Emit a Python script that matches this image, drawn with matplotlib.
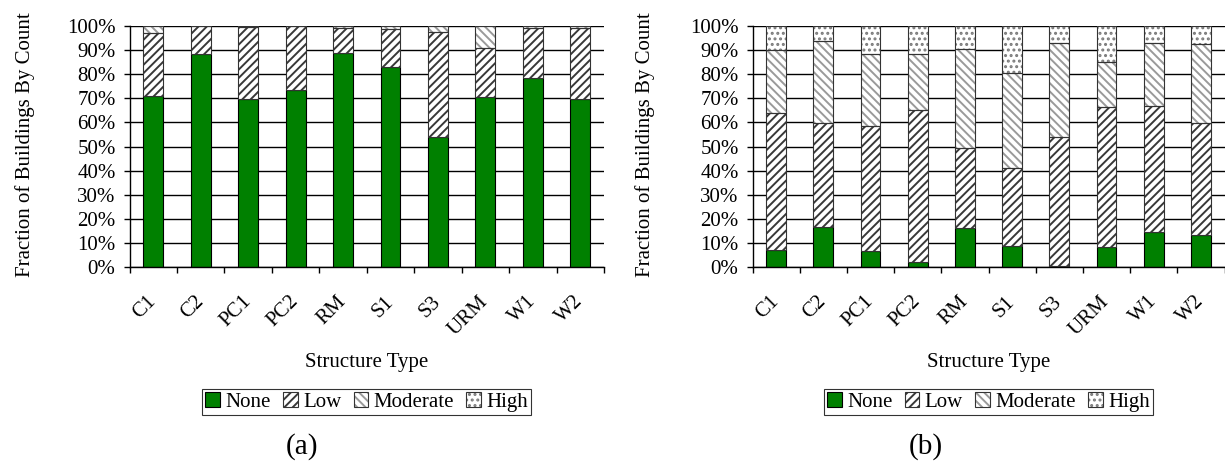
import matplotlib

matplotlib.use("Agg")
import matplotlib.pyplot as plt  # noqa: E402
from matplotlib.patches import Patch  # noqa: E402
from matplotlib.legend_handler import HandlerTuple  # noqa: E402
from matplotlib.ticker import FixedLocator, FuncFormatter  # noqa: E402

structure_types = ["C1", "C2", "PC1", "PC2", "RM", "S1", "S3", "URM", "W1", "W2"]
damage_states = ["None", "Low", "Moderate", "High"]

# (a) damage fractions by count, percent
none_a = [71.1, 88.2, 69.6, 73.4, 88.7, 83.1, 54.1, 70.4, 78.3, 69.6]
low_a = [25.9, 11.8, 29.9, 26.6, 10.3, 15.5, 43.3, 20.3, 20.7, 29.4]
moderate_a = [3.0, 0.0, 0.5, 0.0, 1.0, 1.4, 2.6, 9.3, 1.0, 1.0]
high_a = [0.0, 0.0, 0.0, 0.0, 0.0, 0.0, 0.0, 0.0, 0.0, 0.0]

# (b) damage fractions by count, percent
none_b = [7.2, 16.5, 6.6, 2.1, 16.2, 8.9, 0.5, 8.3, 14.5, 13.3]
low_b = [56.5, 43.1, 52.1, 63.0, 33.1, 32.2, 53.4, 58.2, 52.5, 46.5]
moderate_b = [26.3, 34.2, 29.5, 23.3, 41.3, 39.6, 39.2, 18.4, 26.1, 32.9]
high_b = [10.0, 6.2, 11.8, 11.6, 9.4, 19.3, 6.9, 15.1, 6.9, 7.3]

FONT = "Liberation Serif"
SIZE = 15
plt.rcParams["font.family"] = [FONT, "DejaVu Serif"]
plt.rcParams["hatch.linewidth"] = 1.4

# (face, hatch, hatch colour) per damage state
STYLES = [
    ("#008000", None, None),
    ("white", "////", "#383838"),
    ("white", "\\\\\\\\", "#9a9a9a"),
    ("white", "...", "#7a7a7a"),
]
BAR_WIDTH = 0.42


def draw_panel(ax, series):
    x = list(range(len(structure_types)))
    bottom = [0.0] * len(x)
    for values, (face, hatch, hcolor) in zip(series, STYLES):
        if hatch is None:
            ax.bar(x, values, BAR_WIDTH, bottom=bottom, color=face,
                   edgecolor="black", linewidth=0.8, zorder=2)
        else:
            ax.bar(x, values, BAR_WIDTH, bottom=bottom, color=face,
                   hatch=hatch, edgecolor=hcolor, linewidth=0, zorder=2)
            ax.bar(x, values, BAR_WIDTH, bottom=bottom, fill=False,
                   edgecolor="#333333", linewidth=0.8, zorder=3)
        bottom = [b + v for b, v in zip(bottom, values)]

    ax.set_xlim(-0.5, len(x) - 0.5)
    ax.set_ylim(0, 100)
    ax.set_axisbelow(True)
    ax.yaxis.set_major_locator(FixedLocator(range(0, 101, 10)))
    ax.yaxis.set_major_formatter(FuncFormatter(lambda v, _: f"{v:.0f}%"))
    ax.grid(axis="y", color="black", linewidth=1.0)
    for side in ("top", "right"):
        ax.spines[side].set_visible(False)
    ax.spines["left"].set_linewidth(1.0)
    ax.spines["bottom"].set_linewidth(1.0)
    ax.tick_params(axis="y", direction="out", length=4, width=1.0,
                   pad=6, labelsize=SIZE)

    # category labels at bar centres, tick marks on the boundaries
    ax.set_xticks(x)
    ax.set_xticklabels(structure_types, rotation=45, ha="right",
                       va="center", rotation_mode="anchor", fontsize=SIZE)
    ax.tick_params(axis="x", which="major", length=0, pad=23)
    ax.set_xticks([i - 0.5 for i in range(len(x) + 1)], minor=True)
    ax.tick_params(axis="x", which="minor", direction="out", length=4,
                   width=1.0)

    ax.text(0.5, -0.398, "Structure Type", transform=ax.transAxes,
            ha="center", va="center", fontsize=SIZE)

    handles = [Patch(facecolor=STYLES[0][0], edgecolor="black", linewidth=0.8)]
    for face, hatch, hcolor in STYLES[1:]:
        handles.append((
            Patch(facecolor=face, hatch=hatch, edgecolor=hcolor, linewidth=0),
            Patch(fill=False, edgecolor="#333333", linewidth=0.8),
        ))
    ax.legend(handles, damage_states, handler_map={tuple: HandlerTuple(ndivide=1)},
              loc="center", bbox_to_anchor=(0.5, -0.56), ncol=4,
              frameon=True, fancybox=False, edgecolor="black",
              prop={"size": SIZE}, handlelength=0.7, handleheight=0.7,
              handletextpad=0.25, columnspacing=0.6, borderpad=0.15,
              borderaxespad=0)
    ax.get_legend().get_frame().set_linewidth(0.8)


fig = plt.figure(figsize=(12.25, 4.62), dpi=100)
ax_a = fig.add_axes([129.5 / 1225, 195 / 462, 474.5 / 1225, 241 / 462])
ax_b = fig.add_axes([752.5 / 1225, 195 / 462, 472 / 1225, 241 / 462])

draw_panel(ax_a, [none_a, low_a, moderate_a, high_a])
draw_panel(ax_b, [none_b, low_b, moderate_b, high_b])

for xpos in (25 / 1225, 645 / 1225):
    fig.text(xpos, 1 - 145 / 462, "Fraction of Buildings By Count",
             rotation=90, ha="center", va="center", fontsize=SIZE)

fig.text(302 / 1225, 1 - 447 / 462, "(a)", ha="center", va="center", fontsize=21)
fig.text(926 / 1225, 1 - 447 / 462, "(b)", ha="center", va="center", fontsize=21)

fig.savefig("out.png", dpi=100, facecolor="white")
